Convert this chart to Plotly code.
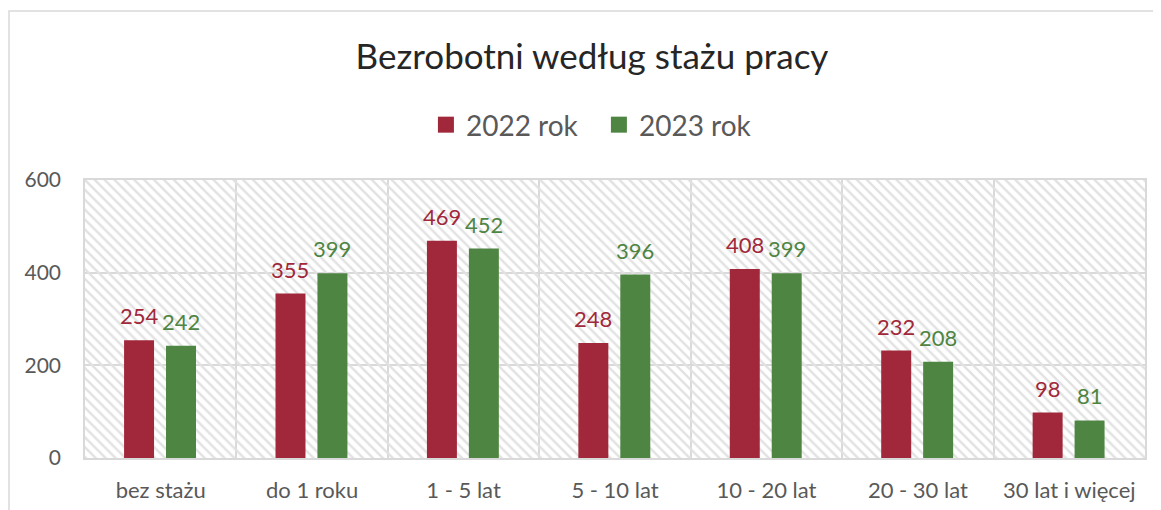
import plotly.graph_objects as go

categories = ["bez stażu", "do 1 roku", "1 - 5 lat", "5 - 10 lat", "10 - 20 lat", "20 - 30 lat", "30 lat i więcej"]
values_2022 = [254, 355, 469, 248, 408, 232, 98]
values_2023 = [242, 399, 452, 396, 399, 208, 81]
y_ticks = [0, 200, 400, 600]

RED = "#A0283A"
GREEN = "#4E8542"
GRID = "#d9d9d9"
TEXT = "#595959"
FONT = "Lato"

fig = go.Figure()

# hatched plot-area background
fig.add_trace(go.Bar(
    x=categories, y=[y_ticks[-1]] * len(categories), width=1, offset=-0.5,
    marker=dict(color="rgba(0,0,0,0)", line=dict(width=0),
                pattern=dict(shape="\\", fgcolor="#e2e2e2", bgcolor="rgba(0,0,0,0)",
                             size=7, solidity=0.35, fillmode="replace")),
    hoverinfo="skip", showlegend=False,
))

bw = 0.198
series = [("2022 rok", values_2022, RED, -0.242, -21.7), ("2023 rok", values_2023, GREEN, 0.035, 20.3)]
for name, vals, col, off, shift in series:
    fig.add_trace(go.Bar(
        x=categories, y=vals, name=name, width=bw, offset=off,
        marker=dict(color=col, line=dict(width=0)), opacity=1, showlegend=False,
    ))
    for c, v in zip(categories, vals):
        fig.add_annotation(x=c, y=v, text=str(v), showarrow=False, xshift=shift,
                           yanchor="bottom", yshift=9,
                           font=dict(color=col, size=22, family=FONT))

# legend entries with larger square markers
for name, vals, col, off, shift in series:
    fig.add_trace(go.Scatter(
        x=[None], y=[None], name=name, mode="markers",
        marker=dict(symbol="square", size=16, color=col),
    ))

# outer chart border
fig.add_shape(type="rect", xref="paper", yref="paper",
              x0=-0.0717, x1=1.2, y0=-0.5, y1=1.608,
              line=dict(color=GRID, width=1.5), layer="below")

fig.update_layout(
    width=1153, height=502,
    margin=dict(l=77, r=16, t=172, b=52),
    paper_bgcolor="white", plot_bgcolor="white",
    barmode="overlay",
    font=dict(family=FONT, color=TEXT, size=18),
    title=dict(text="Bezrobotni według stażu pracy", x=0.5065, xanchor="center",
               xref="container", y=0.902, yanchor="middle", yref="container",
               font=dict(size=35, color="#262626", family=FONT)),
    legend=dict(orientation="h", x=0.5125, xanchor="center", xref="container",
                y=0.767, yanchor="middle", yref="container",
                font=dict(size=28, color=TEXT, family=FONT), itemwidth=30,
                entrywidth=128, entrywidthmode="pixels",
                traceorder="normal"),
    showlegend=True,
)
fig.update_xaxes(
    type="category", tickson="boundaries", showgrid=True, gridcolor=GRID, gridwidth=1.5,
    showline=True, linecolor=GRID, linewidth=2, mirror=True, ticks="",
    tickfont=dict(size=22, color=TEXT), range=[-0.5, len(categories) - 0.5],
    ticklabelstandoff=12, automargin=False,
)
fig.update_yaxes(
    range=[0, 600], tickvals=y_ticks, showgrid=True, gridcolor=GRID, gridwidth=1.5,
    showline=True, linecolor=GRID, linewidth=1.5, mirror=True, ticks="",
    tickfont=dict(size=21, color=TEXT), ticklabelstandoff=18, zeroline=False,
    automargin=False,
)

fig.write_html("out.html")
